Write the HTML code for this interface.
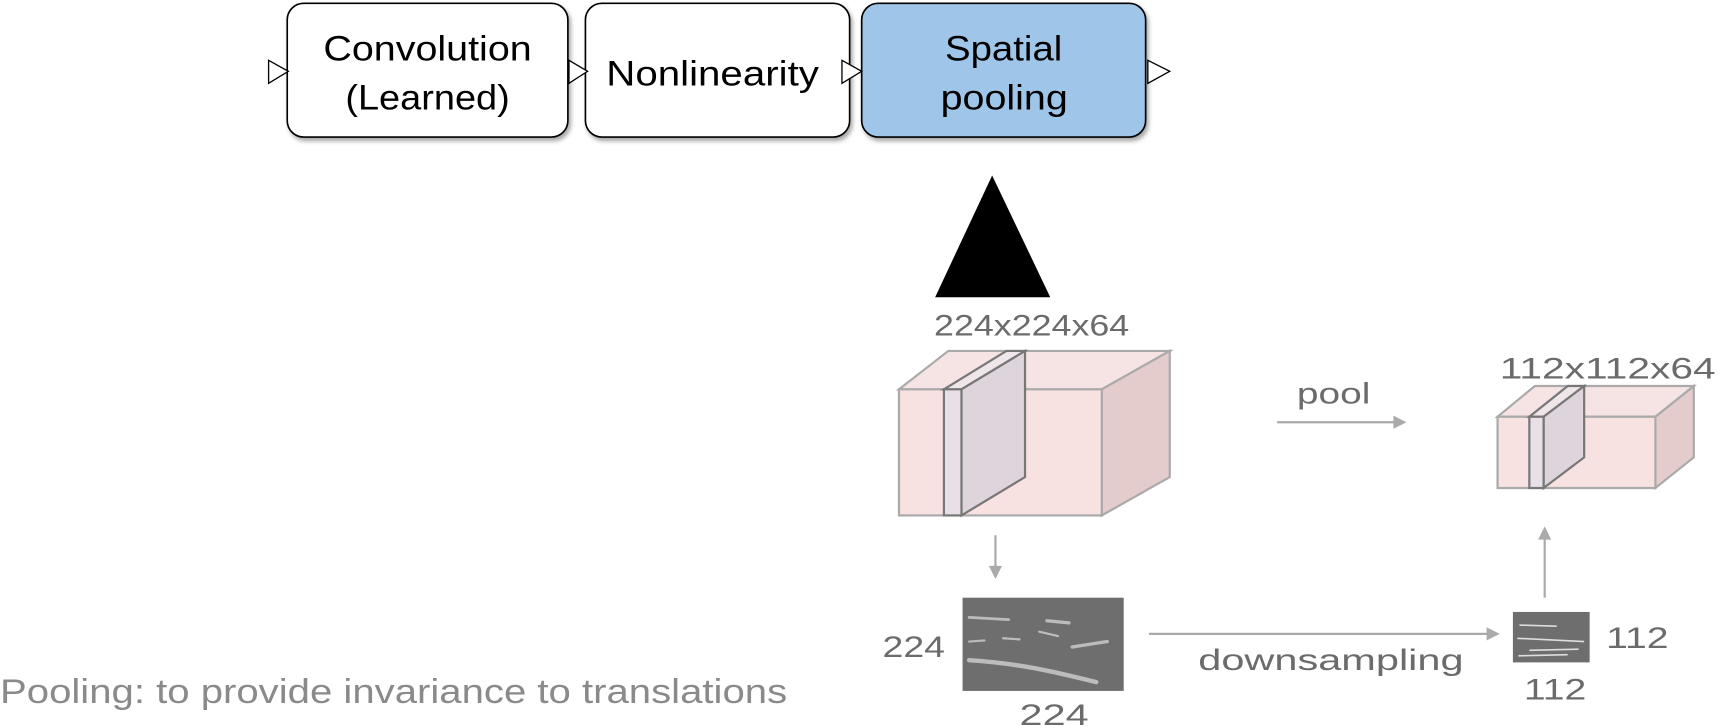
<!DOCTYPE html>
<html><head><meta charset="utf-8"><style>
html,body{margin:0;padding:0;background:#fff;}
svg{display:block;}
</style></head><body>
<svg width="1719" height="726" viewBox="0 0 1568 662" preserveAspectRatio="none" xmlns="http://www.w3.org/2000/svg">
<defs>
<filter id="sh" x="-10%" y="-10%" width="130%" height="130%"><feDropShadow dx="2" dy="3" stdDeviation="2" flood-color="#000" flood-opacity="0.35"/></filter>
</defs>
<g font-family="Liberation Sans, sans-serif">
<rect x="262" y="3" width="256" height="122" rx="15" fill="#fff" stroke="#000" stroke-width="1.5" filter="url(#sh)"/>
<rect x="534" y="3" width="241" height="122" rx="15" fill="#fff" stroke="#000" stroke-width="1.5" filter="url(#sh)"/>
<rect x="786" y="3" width="259" height="122" rx="15" fill="#9fc5e8" stroke="#000" stroke-width="1.5" filter="url(#sh)"/>
<g font-size="32" fill="#000">
<text x="295" y="55" textLength="190" lengthAdjust="spacingAndGlyphs">Convolution</text>
<text x="315" y="100" textLength="150" lengthAdjust="spacingAndGlyphs">(Learned)</text>
<text x="553" y="78" textLength="194" lengthAdjust="spacingAndGlyphs">Nonlinearity</text>
<text x="862" y="55" textLength="107" lengthAdjust="spacingAndGlyphs">Spatial</text>
<text x="858" y="100" textLength="116" lengthAdjust="spacingAndGlyphs">pooling</text>
</g>
<g fill="#fff" stroke="#000" stroke-width="1.2">
<polygon points="245,55 263,65 245,76"/>
<polygon points="519,55 536,65 519,76"/>
<polygon points="768,55 786,65 768,76"/>
<polygon points="1047,55 1067,65 1047,76"/>
</g>
<polygon points="905,160 853,271 958,271" fill="#000"/>
<g fill="#6b6b6b" font-size="27">
<text x="852" y="306" textLength="178" lengthAdjust="spacingAndGlyphs">224x224x64</text>
<text x="1368" y="345" textLength="197" lengthAdjust="spacingAndGlyphs">112x112x64</text>
<text x="1183" y="368" textLength="67" lengthAdjust="spacingAndGlyphs">pool</text>
<text x="805" y="599" textLength="57" lengthAdjust="spacingAndGlyphs">224</text>
<text x="930" y="661" textLength="63" lengthAdjust="spacingAndGlyphs">224</text>
<text x="1093" y="611" textLength="242" lengthAdjust="spacingAndGlyphs">downsampling</text>
<text x="1465" y="591" textLength="57" lengthAdjust="spacingAndGlyphs">112</text>
<text x="1390" y="638" textLength="57" lengthAdjust="spacingAndGlyphs">112</text>
</g>
<g stroke="#aaa" stroke-width="2">
<polygon points="820,355 865,320 1067,320 1005,355" fill="#f6e3e3"/>
<polygon points="1005,355 1067,320 1067,435 1005,470" fill="#e5cccc"/>
<rect x="820" y="355" width="185" height="115" fill="#f7e1e1"/>
</g>
<g stroke="#777" stroke-width="2">
<polygon points="861,355 918,320 935,320 877,355" fill="#efe6ea"/>
<polygon points="877,355 935,320 935,435 877,470" fill="#ddd5db"/>
<rect x="861" y="355" width="16" height="115" fill="#e8e0e6"/>
</g>
<g stroke="#aaa" stroke-width="2">
<polygon points="1366,380 1400,352 1545,352 1510,380" fill="#f6e3e3"/>
<polygon points="1510,380 1545,352 1545,417 1510,445" fill="#e5cccc"/>
<rect x="1366" y="380" width="144" height="65" fill="#f7e1e1"/>
</g>
<g stroke="#777" stroke-width="2">
<polygon points="1395,380 1430,352 1445,352 1408,380" fill="#efe6ea"/>
<polygon points="1408,380 1445,352 1445,417 1408,445" fill="#ddd5db"/>
<rect x="1395" y="380" width="13" height="65" fill="#e8e0e6"/>
</g>
<g stroke="#aaa" stroke-width="2" fill="#aaa">
<line x1="908" y1="488" x2="908" y2="518"/><polygon points="902,516 914,516 908,528" stroke="none"/>
<line x1="1048" y1="578" x2="1358" y2="578"/><polygon points="1356,572 1368,578 1356,584" stroke="none"/>
<line x1="1165" y1="385" x2="1273" y2="385"/><polygon points="1271,379 1283,385 1271,391" stroke="none"/>
<line x1="1409" y1="545" x2="1409" y2="490"/><polygon points="1403,492 1415,492 1409,480" stroke="none"/>
</g>
<rect x="878" y="545" width="147" height="85" fill="#6e6e6e"/>
<g stroke="#d0d0d0" stroke-linecap="round" fill="none" opacity="0.8">
<path d="M884,602 C930,605 960,612 1000,622" stroke-width="4"/>
<path d="M884,563 L920,565" stroke-width="2.5"/>
<path d="M884,585 L898,584 M915,582 L930,583 M948,576 L965,580" stroke-width="2"/>
<path d="M955,566 L975,568 M978,590 L1010,585" stroke-width="3"/>
</g>
<rect x="1380" y="558" width="70" height="46" fill="#6e6e6e"/>
<g stroke="#ddd" stroke-width="1.5" fill="none">
<path d="M1384,582 L1445,585 M1386,570 L1420,571 M1395,593 L1440,592 M1385,598 L1430,597"/>
</g>
<text x="0" y="641" font-size="31" fill="#8a8a8a" textLength="718" lengthAdjust="spacingAndGlyphs">Pooling: to provide invariance to translations</text>
</g>
</svg>
</body></html>
